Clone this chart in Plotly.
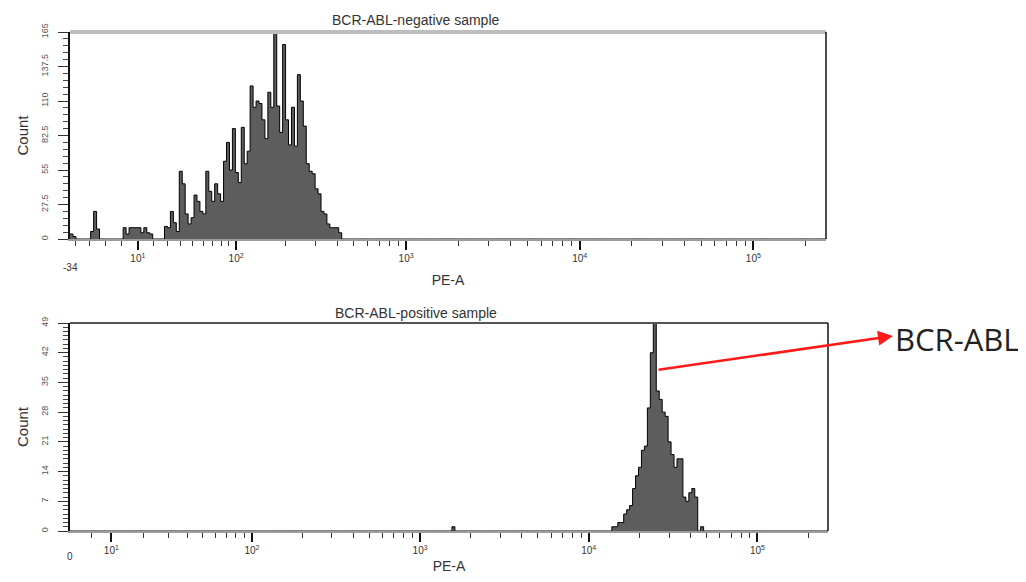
import numpy as np
import plotly.graph_objects as go

# ---------------- data ----------------
N_CHANNELS = 256                 # display channels across each PE-A axis
PE_MAX = 262143                  # top of the PE-A scale
NEG_PE_MIN = -34                 # left end of the negative-sample PE-A axis
POS_PE_MIN = 0                   # left end of the positive-sample PE-A axis
NEG_WIDTH = 23.0                 # biexponential linear-width parameter (negative sample)
POS_WIDTH = 8.4                  # biexponential linear-width parameter (positive sample)

pe_decades = [10, 100, 1000, 10000, 100000]
pe_decade_labels = ["10<sup>1</sup>", "10<sup>2</sup>", "10<sup>3</sup>",
                    "10<sup>4</sup>", "10<sup>5</sup>"]

neg_count_ticks = [0, 27.5, 55, 82.5, 110, 137.5, 165]
pos_count_ticks = [0, 7, 14, 21, 28, 35, 42, 49]

# BCR-ABL-negative sample: counts per channel, starting at channel 0
neg_first_channel = 0
neg_counts = [4, 2, 0, 0, 0, 0, 0, 6, 22, 8,
              0, 0, 0, 0, 0, 0, 0, 0, 9, 4,
              9, 9, 9, 9, 5, 9, 5, 4, 0, 0,
              0, 0, 10, 9, 22, 13, 6, 54, 44, 20,
              12, 17, 35, 30, 22, 20, 54, 38, 30, 44,
              36, 30, 62, 77, 55, 88, 53, 45, 89, 60,
              70, 122, 105, 110, 108, 95, 80, 117, 105, 165,
              106, 85, 155, 95, 75, 105, 74, 131, 110, 90,
              60, 54, 52, 40, 36, 22, 20, 12, 9, 9,
              9, 5]

# BCR-ABL-positive sample: counts per channel, starting at channel 183
pos_first_channel = 183
pos_counts = [1, 1, 2, 2, 4, 5, 6, 10, 13, 15,
              19, 20, 29, 42, 49, 33, 31, 28, 27, 21,
              18, 15, 17, 17, 8, 7, 9, 10, 8, 0,
              1]
pos_isolated_channels = [129]
pos_isolated_counts = [1]


# ---------------- helpers ----------------
def biex(v, w):
    """Biexponential-like (arcsinh) display transform, in decades."""
    return np.arcsinh(np.asarray(v, dtype=float) / (2.0 * w)) / np.log(10.0)


def full_counts(first, counts, extra_ch=(), extra_ct=()):
    arr = np.zeros(N_CHANNELS)
    arr[first:first + len(counts)] = counts
    for c, n in zip(extra_ch, extra_ct):
        arr[c] = n
    return arr


neg_lo, neg_hi = float(biex(NEG_PE_MIN, NEG_WIDTH)), float(biex(PE_MAX, NEG_WIDTH))
pos_lo, pos_hi = float(biex(POS_PE_MIN, POS_WIDTH)), float(biex(PE_MAX, POS_WIDTH))
neg_edges = np.linspace(neg_lo, neg_hi, N_CHANNELS + 1)
pos_edges = np.linspace(pos_lo, pos_hi, N_CHANNELS + 1)

neg_full = full_counts(neg_first_channel, neg_counts)
pos_full = full_counts(pos_first_channel, pos_counts,
                       pos_isolated_channels, pos_isolated_counts)

minor_pe = [m * 10 ** k for k in range(1, 6) for m in range(2, 10)
            if m * 10 ** k < PE_MAX] + [200000]
neg_minor = [-30, -20, -10, 0] + minor_pe
pos_minor = [5] + minor_pe

FILL = "#5d5d5d"
FONT = "Liberation Sans, Arial, sans-serif"

fig = go.Figure()
fig.add_trace(go.Scatter(
    x=neg_edges, y=np.append(neg_full, neg_full[-1]),
    mode="lines", line=dict(shape="hv", color="black", width=1),
    fill="tozeroy", fillcolor=FILL, xaxis="x", yaxis="y",
    hoverinfo="skip", showlegend=False))
fig.add_trace(go.Scatter(
    x=pos_edges, y=np.append(pos_full, pos_full[-1]),
    mode="lines", line=dict(shape="hv", color="black", width=1),
    fill="tozeroy", fillcolor=FILL, xaxis="x2", yaxis="y2",
    hoverinfo="skip", showlegend=False))

# figure sits inside the page's default 8px body margin
PAGE_PAD = 8
W, H = 1026 - 2 * PAGE_PAD, 582 - 2 * PAGE_PAD


def px_x(p):
    return (p - PAGE_PAD) / W


def px_y(p):
    return 1 - (p - PAGE_PAD) / H


xcommon = dict(
    tickmode="array", ticks="outside", ticklen=9, tickwidth=1.5, tickcolor="#111",
    showline=True, linecolor="#9c9c9c", linewidth=2, showgrid=False, zeroline=False,
    tickfont=dict(size=10, color="#333", family=FONT), automargin=False,
)
ycommon = dict(
    tickmode="array", ticks="outside", ticklen=10, tickwidth=1.2, tickcolor="#333",
    showline=True, linecolor="#111", linewidth=2, showgrid=False, zeroline=False,
    tickangle=-90, tickfont=dict(size=9, color="#555", family=FONT), automargin=False,
    ticklabelstandoff=6,
    title=dict(text="Count", font=dict(size=15, color="#333", family=FONT), standoff=8),
)
xtitle_font = dict(size=14, color="#333", family=FONT)

fig.update_layout(
    width=W, height=H, margin=dict(l=0, r=0, t=0, b=0),
    paper_bgcolor="white", plot_bgcolor="white",
    font=dict(family=FONT),
    xaxis=dict(xcommon, domain=[px_x(70), px_x(826)], anchor="y",
               range=[neg_lo, neg_hi],
               title=dict(text="PE-A", font=xtitle_font, standoff=12),
               tickvals=list(biex(pe_decades, NEG_WIDTH)), ticktext=pe_decade_labels,
               minor=dict(tickvals=list(biex(neg_minor, NEG_WIDTH)), ticks="outside",
                          ticklen=5, tickcolor="#333", tickwidth=1)),
    yaxis=dict(ycommon, domain=[px_y(239), px_y(32)], anchor="x",
               range=[0, neg_count_ticks[-1]], tickvals=neg_count_ticks,
               minor=dict(dtick=neg_count_ticks[1] / 5, ticks="outside", ticklen=5,
                          tickcolor="#444", tickwidth=1)),
    xaxis2=dict(xcommon, domain=[px_x(70), px_x(828)], anchor="y2",
                range=[pos_lo, pos_hi],
                title=dict(text="PE-A", font=xtitle_font, standoff=20),
                tickvals=list(biex(pe_decades, POS_WIDTH)), ticktext=pe_decade_labels,
                minor=dict(tickvals=list(biex(pos_minor, POS_WIDTH)), ticks="outside",
                           ticklen=5, tickcolor="#333", tickwidth=1)),
    yaxis2=dict(ycommon, domain=[px_y(531), px_y(323)], anchor="x2",
                range=[0, pos_count_ticks[-1]], tickvals=pos_count_ticks,
                minor=dict(dtick=1, ticks="outside", ticklen=5,
                           tickcolor="#444", tickwidth=1)),
)

# frame lines
fig.add_shape(type="line", xref="x domain", yref="y domain", x0=0, x1=1, y0=1, y1=1,
              line=dict(color="#bdbdbd", width=4))
fig.add_shape(type="line", xref="x domain", yref="y domain", x0=1, x1=1, y0=0, y1=1,
              line=dict(color="#111", width=1.5))
fig.add_shape(type="line", xref="x2 domain", yref="y2 domain", x0=0, x1=1, y0=1, y1=1,
              line=dict(color="#555", width=2))
fig.add_shape(type="line", xref="x2 domain", yref="y2 domain", x0=1, x1=1, y0=0, y1=1,
              line=dict(color="#111", width=1.5))

# panel titles
fig.add_annotation(text="BCR-ABL-negative sample", xref="paper", yref="paper",
                   x=px_x(416), y=px_y(20), yanchor="bottom", yshift=-10,
                   showarrow=False, font=dict(size=14, color="#333", family=FONT))
fig.add_annotation(text="BCR-ABL-positive sample", xref="paper", yref="paper",
                   x=px_x(416), y=px_y(313), showarrow=False,
                   font=dict(size=14, color="#333", family=FONT))

# staggered lower-end axis labels
fig.add_annotation(text=str(NEG_PE_MIN), xref="x", yref="paper",
                   x=neg_lo, y=px_y(268), showarrow=False,
                   font=dict(size=10, color="#333", family=FONT))
fig.add_annotation(text=str(POS_PE_MIN), xref="x2", yref="paper",
                   x=pos_lo, y=px_y(564), showarrow=False,
                   font=dict(size=10, color="#333", family=FONT))

# BCR-ABL arrow + label
fig.add_annotation(text="", xref="paper", yref="paper",
                   x=px_x(893), y=px_y(336), ax=-236, ay=34,
                   showarrow=True, arrowhead=2, arrowsize=1.2, arrowwidth=2.5,
                   arrowcolor="#ff1a1a")
fig.add_annotation(text="BCR-ABL", xref="paper", yref="paper",
                   x=px_x(893), y=px_y(339), xanchor="left", yanchor="middle",
                   showarrow=False,
                   font=dict(size=31, color="#222", family="Open Sans, sans-serif"))

fig.write_html("out.html")
